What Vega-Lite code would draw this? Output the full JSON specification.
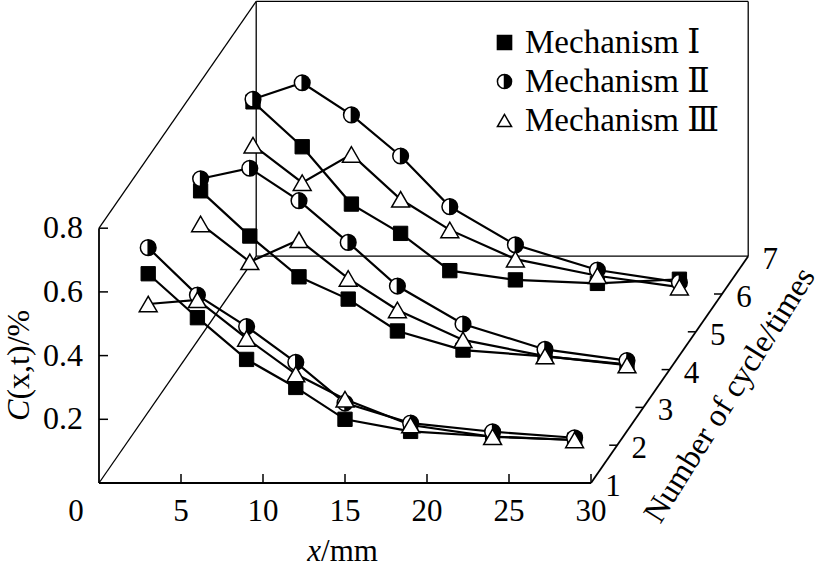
{
  "$schema": "https://vega.github.io/schema/vega-lite/v6.json",
  "width": 823,
  "height": 567,
  "autosize": {"type": "none"},
  "padding": 0,
  "background": "white",
  "config": {
    "view": {"stroke": null},
    "legend": {
      "orient": "none",
      "legendX": 488,
      "legendY": 26,
      "labelFont": "Liberation Serif, DejaVu Serif",
      "labelFontSize": 33,
      "labelColor": "black",
      "labelLimit": 400,
      "symbolSize": 200,
      "labelOffset": 4,
      "rowPadding": 5
    }
  },
  "datasets": {
    "points": [
      {"mech": "Mechanism Ⅰ", "cycle": 1, "x": 3, "C": 0.657},
      {"mech": "Mechanism Ⅰ", "cycle": 1, "x": 6, "C": 0.519},
      {"mech": "Mechanism Ⅰ", "cycle": 1, "x": 9, "C": 0.388},
      {"mech": "Mechanism Ⅰ", "cycle": 1, "x": 12, "C": 0.300},
      {"mech": "Mechanism Ⅰ", "cycle": 1, "x": 15, "C": 0.200},
      {"mech": "Mechanism Ⅰ", "cycle": 1, "x": 19, "C": 0.162},
      {"mech": "Mechanism Ⅰ", "cycle": 1, "x": 24, "C": 0.146},
      {"mech": "Mechanism Ⅰ", "cycle": 1, "x": 29, "C": 0.135},
      {"mech": "Mechanism Ⅰ", "cycle": 3, "x": 3, "C": 0.680},
      {"mech": "Mechanism Ⅰ", "cycle": 3, "x": 6, "C": 0.538},
      {"mech": "Mechanism Ⅰ", "cycle": 3, "x": 9, "C": 0.410},
      {"mech": "Mechanism Ⅰ", "cycle": 3, "x": 12, "C": 0.340},
      {"mech": "Mechanism Ⅰ", "cycle": 3, "x": 15, "C": 0.240},
      {"mech": "Mechanism Ⅰ", "cycle": 3, "x": 19, "C": 0.180},
      {"mech": "Mechanism Ⅰ", "cycle": 3, "x": 24, "C": 0.160},
      {"mech": "Mechanism Ⅰ", "cycle": 3, "x": 29, "C": 0.135},
      {"mech": "Mechanism Ⅰ", "cycle": 5, "x": 3, "C": 0.722},
      {"mech": "Mechanism Ⅰ", "cycle": 5, "x": 6, "C": 0.581},
      {"mech": "Mechanism Ⅰ", "cycle": 5, "x": 9, "C": 0.401},
      {"mech": "Mechanism Ⅰ", "cycle": 5, "x": 12, "C": 0.309},
      {"mech": "Mechanism Ⅰ", "cycle": 5, "x": 15, "C": 0.192},
      {"mech": "Mechanism Ⅰ", "cycle": 5, "x": 19, "C": 0.163},
      {"mech": "Mechanism Ⅰ", "cycle": 5, "x": 24, "C": 0.152},
      {"mech": "Mechanism Ⅰ", "cycle": 5, "x": 29, "C": 0.165},
      {"mech": "Mechanism Ⅱ", "cycle": 1, "x": 3, "C": 0.739},
      {"mech": "Mechanism Ⅱ", "cycle": 1, "x": 6, "C": 0.590},
      {"mech": "Mechanism Ⅱ", "cycle": 1, "x": 9, "C": 0.491},
      {"mech": "Mechanism Ⅱ", "cycle": 1, "x": 12, "C": 0.379},
      {"mech": "Mechanism Ⅱ", "cycle": 1, "x": 15, "C": 0.251},
      {"mech": "Mechanism Ⅱ", "cycle": 1, "x": 19, "C": 0.188},
      {"mech": "Mechanism Ⅱ", "cycle": 1, "x": 24, "C": 0.161},
      {"mech": "Mechanism Ⅱ", "cycle": 1, "x": 29, "C": 0.142},
      {"mech": "Mechanism Ⅱ", "cycle": 3, "x": 3, "C": 0.718},
      {"mech": "Mechanism Ⅱ", "cycle": 3, "x": 6, "C": 0.751},
      {"mech": "Mechanism Ⅱ", "cycle": 3, "x": 9, "C": 0.649},
      {"mech": "Mechanism Ⅱ", "cycle": 3, "x": 12, "C": 0.518},
      {"mech": "Mechanism Ⅱ", "cycle": 3, "x": 15, "C": 0.381},
      {"mech": "Mechanism Ⅱ", "cycle": 3, "x": 19, "C": 0.262},
      {"mech": "Mechanism Ⅱ", "cycle": 3, "x": 24, "C": 0.182},
      {"mech": "Mechanism Ⅱ", "cycle": 3, "x": 29, "C": 0.147},
      {"mech": "Mechanism Ⅱ", "cycle": 5, "x": 3, "C": 0.730},
      {"mech": "Mechanism Ⅱ", "cycle": 5, "x": 6, "C": 0.782},
      {"mech": "Mechanism Ⅱ", "cycle": 5, "x": 9, "C": 0.681},
      {"mech": "Mechanism Ⅱ", "cycle": 5, "x": 12, "C": 0.552},
      {"mech": "Mechanism Ⅱ", "cycle": 5, "x": 15, "C": 0.393},
      {"mech": "Mechanism Ⅱ", "cycle": 5, "x": 19, "C": 0.273},
      {"mech": "Mechanism Ⅱ", "cycle": 5, "x": 24, "C": 0.194},
      {"mech": "Mechanism Ⅱ", "cycle": 5, "x": 29, "C": 0.155},
      {"mech": "Mechanism Ⅲ", "cycle": 1, "x": 3, "C": 0.562},
      {"mech": "Mechanism Ⅲ", "cycle": 1, "x": 6, "C": 0.575},
      {"mech": "Mechanism Ⅲ", "cycle": 1, "x": 9, "C": 0.454},
      {"mech": "Mechanism Ⅲ", "cycle": 1, "x": 12, "C": 0.342},
      {"mech": "Mechanism Ⅲ", "cycle": 1, "x": 15, "C": 0.263},
      {"mech": "Mechanism Ⅲ", "cycle": 1, "x": 19, "C": 0.182},
      {"mech": "Mechanism Ⅲ", "cycle": 1, "x": 24, "C": 0.145},
      {"mech": "Mechanism Ⅲ", "cycle": 1, "x": 29, "C": 0.135},
      {"mech": "Mechanism Ⅲ", "cycle": 3, "x": 3, "C": 0.576},
      {"mech": "Mechanism Ⅲ", "cycle": 3, "x": 6, "C": 0.457},
      {"mech": "Mechanism Ⅲ", "cycle": 3, "x": 9, "C": 0.526},
      {"mech": "Mechanism Ⅲ", "cycle": 3, "x": 12, "C": 0.405},
      {"mech": "Mechanism Ⅲ", "cycle": 3, "x": 15, "C": 0.306},
      {"mech": "Mechanism Ⅲ", "cycle": 3, "x": 19, "C": 0.212},
      {"mech": "Mechanism Ⅲ", "cycle": 3, "x": 24, "C": 0.161},
      {"mech": "Mechanism Ⅲ", "cycle": 3, "x": 29, "C": 0.133},
      {"mech": "Mechanism Ⅲ", "cycle": 5, "x": 3, "C": 0.586},
      {"mech": "Mechanism Ⅲ", "cycle": 5, "x": 6, "C": 0.468},
      {"mech": "Mechanism Ⅲ", "cycle": 5, "x": 9, "C": 0.557},
      {"mech": "Mechanism Ⅲ", "cycle": 5, "x": 12, "C": 0.416},
      {"mech": "Mechanism Ⅲ", "cycle": 5, "x": 15, "C": 0.320},
      {"mech": "Mechanism Ⅲ", "cycle": 5, "x": 19, "C": 0.228},
      {"mech": "Mechanism Ⅲ", "cycle": 5, "x": 24, "C": 0.176},
      {"mech": "Mechanism Ⅲ", "cycle": 5, "x": 29, "C": 0.140}
    ],
    "frame": [
      {"kind": "axis", "x": 0, "C": 0, "cycle": 1, "x2": 0, "C2": 0.8, "cycle2": 1},
      {"kind": "axis", "x": 0, "C": 0, "cycle": 1, "x2": 30, "C2": 0, "cycle2": 1},
      {"kind": "axis", "x": 30, "C": 0, "cycle": 1, "x2": 30, "C2": 0, "cycle2": 7},
      {"kind": "box", "x": 0, "C": 0, "cycle": 1, "x2": 0, "C2": 0, "cycle2": 7},
      {"kind": "box", "x": 0, "C": 0.8, "cycle": 1, "x2": 0, "C2": 0.8, "cycle2": 7},
      {"kind": "box", "x": 0, "C": 0, "cycle": 7, "x2": 0, "C2": 0.8, "cycle2": 7},
      {"kind": "box", "x": 0, "C": 0, "cycle": 7, "x2": 30, "C2": 0, "cycle2": 7},
      {"kind": "box", "x": 30, "C": 0, "cycle": 7, "x2": 30, "C2": 0.8, "cycle2": 7},
      {"kind": "box", "x": 0, "C": 0.8, "cycle": 7, "x2": 30, "C2": 0.8, "cycle2": 7}
    ],
    "xticks": [
      {"x": 5, "C": 0, "cycle": 1}, {"x": 10, "C": 0, "cycle": 1}, {"x": 15, "C": 0, "cycle": 1},
      {"x": 20, "C": 0, "cycle": 1}, {"x": 25, "C": 0, "cycle": 1}, {"x": 30, "C": 0, "cycle": 1}
    ],
    "yticks": [
      {"x": 0, "C": 0.2, "cycle": 1}, {"x": 0, "C": 0.4, "cycle": 1},
      {"x": 0, "C": 0.6, "cycle": 1}, {"x": 0, "C": 0.8, "cycle": 1}
    ],
    "dticks": [
      {"x": 30, "C": 0, "cycle": 1}, {"x": 30, "C": 0, "cycle": 2}, {"x": 30, "C": 0, "cycle": 3},
      {"x": 30, "C": 0, "cycle": 4}, {"x": 30, "C": 0, "cycle": 5}, {"x": 30, "C": 0, "cycle": 6},
      {"x": 30, "C": 0, "cycle": 7}
    ]
  },
  "layer": [
    {
      "data": {"name": "frame"},
      "transform": [
        {"filter": "datum.kind == 'box'"},
        {"calculate": "datum.x + (datum.cycle-1)*1.5976", "as": "X"},
        {"calculate": "datum.C + (datum.cycle-1)*0.11868", "as": "Y"},
        {"calculate": "datum.x2 + (datum.cycle2-1)*1.5976", "as": "X2"},
        {"calculate": "datum.C2 + (datum.cycle2-1)*0.11868", "as": "Y2"}
      ],
      "mark": {"type": "rule", "color": "black", "strokeWidth": 1.3},
      "encoding": {
        "x": {"field": "X", "type": "quantitative", "scale": {"domain": [-6.0366, 44.146], "nice": false, "zero": false}, "axis": null},
        "y": {"field": "Y", "type": "quantitative", "scale": {"domain": [-0.26374, 1.51648], "nice": false, "zero": false}, "axis": null},
        "x2": {"field": "X2"},
        "y2": {"field": "Y2"}
      }
    },
    {
      "data": {"name": "frame"},
      "transform": [
        {"filter": "datum.kind == 'axis'"},
        {"calculate": "datum.x + (datum.cycle-1)*1.5976", "as": "X"},
        {"calculate": "datum.C + (datum.cycle-1)*0.11868", "as": "Y"},
        {"calculate": "datum.x2 + (datum.cycle2-1)*1.5976", "as": "X2"},
        {"calculate": "datum.C2 + (datum.cycle2-1)*0.11868", "as": "Y2"}
      ],
      "mark": {"type": "rule", "color": "black", "strokeWidth": 1.8},
      "encoding": {
        "x": {"field": "X", "type": "quantitative", "axis": null},
        "y": {"field": "Y", "type": "quantitative", "axis": null},
        "x2": {"field": "X2"},
        "y2": {"field": "Y2"}
      }
    },
    {
      "data": {"name": "xticks"},
      "transform": [
        {"calculate": "datum.x + (datum.cycle-1)*1.5976", "as": "X"},
        {"calculate": "datum.C + (datum.cycle-1)*0.11868", "as": "Y"}
      ],
      "mark": {"type": "tick", "orient": "vertical", "size": 9, "thickness": 1.5, "yOffset": -4.5, "color": "black", "opacity": 1},
      "encoding": {
        "x": {"field": "X", "type": "quantitative", "axis": null},
        "y": {"field": "Y", "type": "quantitative", "axis": null}
      }
    },
    {
      "data": {"name": "xticks"},
      "transform": [
        {"calculate": "datum.x + (datum.cycle-1)*1.5976", "as": "X"},
        {"calculate": "datum.C + (datum.cycle-1)*0.11868", "as": "Y"}
      ],
      "mark": {"type": "text", "font": "Liberation Serif", "fontSize": 31, "color": "black", "baseline": "middle", "align": "center", "dy": 29},
      "encoding": {
        "x": {"field": "X", "type": "quantitative", "axis": null},
        "y": {"field": "Y", "type": "quantitative", "axis": null},
        "text": {"field": "x", "type": "quantitative"}
      }
    },
    {
      "data": {"values": [{"label": "0"}]},
      "mark": {"type": "text", "font": "Liberation Serif", "fontSize": 31, "color": "black", "baseline": "middle", "align": "center", "dy": 29, "dx": -23},
      "encoding": {
        "x": {"datum": 0, "type": "quantitative", "axis": null},
        "y": {"datum": 0, "type": "quantitative", "axis": null},
        "text": {"field": "label"}
      }
    },
    {
      "data": {"name": "yticks"},
      "transform": [
        {"calculate": "datum.x + (datum.cycle-1)*1.5976", "as": "X"},
        {"calculate": "datum.C + (datum.cycle-1)*0.11868", "as": "Y"}
      ],
      "mark": {"type": "tick", "orient": "horizontal", "size": 9, "thickness": 1.5, "xOffset": 4.5, "color": "black", "opacity": 1},
      "encoding": {
        "x": {"field": "X", "type": "quantitative", "axis": null},
        "y": {"field": "Y", "type": "quantitative", "axis": null}
      }
    },
    {
      "data": {"name": "yticks"},
      "transform": [
        {"calculate": "datum.x + (datum.cycle-1)*1.5976", "as": "X"},
        {"calculate": "datum.C + (datum.cycle-1)*0.11868", "as": "Y"}
      ],
      "mark": {"type": "text", "font": "Liberation Serif", "fontSize": 32, "color": "black", "baseline": "middle", "align": "right", "dx": -16},
      "encoding": {
        "x": {"field": "X", "type": "quantitative", "axis": null},
        "y": {"field": "Y", "type": "quantitative", "axis": null},
        "text": {"field": "C", "type": "quantitative", "format": ".1f"}
      }
    },
    {
      "data": {"name": "dticks"},
      "transform": [
        {"filter": "datum.cycle > 1 && datum.cycle < 7"},
        {"calculate": "datum.x + (datum.cycle-1)*1.5976", "as": "X"},
        {"calculate": "datum.C + (datum.cycle-1)*0.11868", "as": "Y"}
      ],
      "mark": {"type": "tick", "orient": "horizontal", "size": 8, "thickness": 1.5, "xOffset": -4, "color": "black", "opacity": 1},
      "encoding": {
        "x": {"field": "X", "type": "quantitative", "axis": null},
        "y": {"field": "Y", "type": "quantitative", "axis": null}
      }
    },
    {
      "data": {"name": "dticks"},
      "transform": [
        {"calculate": "datum.x + (datum.cycle-1)*1.5976", "as": "X"},
        {"calculate": "datum.C + (datum.cycle-1)*0.11868", "as": "Y"}
      ],
      "mark": {"type": "text", "font": "Liberation Serif", "fontSize": 31, "color": "black", "baseline": "middle", "align": "center", "dx": 22, "dy": 4},
      "encoding": {
        "x": {"field": "X", "type": "quantitative", "axis": null},
        "y": {"field": "Y", "type": "quantitative", "axis": null},
        "text": {"field": "cycle", "type": "quantitative"}
      }
    },
    {
      "data": {"name": "points"},
      "transform": [
        {"calculate": "datum.x + (datum.cycle-1)*1.5976", "as": "X"},
        {"calculate": "datum.C + (datum.cycle-1)*0.11868", "as": "Y"}
      ],
      "mark": {"type": "line", "color": "black", "strokeWidth": 2.2},
      "encoding": {
        "x": {"field": "X", "type": "quantitative", "axis": null},
        "y": {"field": "Y", "type": "quantitative", "axis": null},
        "detail": [{"field": "mech"}, {"field": "cycle"}],
        "order": {"field": "x", "type": "quantitative"}
      }
    },
    {
      "data": {"name": "points"},
      "transform": [
        {"filter": "datum.mech == 'Mechanism Ⅰ'"},
        {"calculate": "datum.x + (datum.cycle-1)*1.5976", "as": "X"},
        {"calculate": "datum.C + (datum.cycle-1)*0.11868", "as": "Y"}
      ],
      "mark": {"type": "point", "filled": true, "size": 205, "stroke": "black", "strokeWidth": 1, "opacity": 1},
      "encoding": {
        "x": {"field": "X", "type": "quantitative", "axis": null},
        "y": {"field": "Y", "type": "quantitative", "axis": null},
        "shape": {"field": "mech", "type": "nominal", "title": null,
          "scale": {"domain": ["Mechanism Ⅰ", "Mechanism Ⅱ", "Mechanism Ⅲ"], "range": ["square", "M0,-1A1,1,0,0,1,0,1Z M0,-1A1,1,0,0,0,0,1A1,1,0,0,1,0,-1Z", "triangle-up"]},
          "legend": {"encode": {"symbols": {"update": {"stroke": {"value": "black"}, "strokeWidth": {"value": 1.5}}}}}},
        "fill": {"field": "mech", "type": "nominal", "title": null,
          "scale": {"domain": ["Mechanism Ⅰ", "Mechanism Ⅱ", "Mechanism Ⅲ"], "range": ["black", "black", "white"]},
          "legend": {"encode": {"symbols": {"update": {"stroke": {"value": "black"}, "strokeWidth": {"value": 1.5}}}}}}
      }
    },
    {
      "data": {"name": "points"},
      "transform": [
        {"filter": "datum.mech == 'Mechanism Ⅱ'"},
        {"calculate": "datum.x + (datum.cycle-1)*1.5976", "as": "X"},
        {"calculate": "datum.C + (datum.cycle-1)*0.11868", "as": "Y"}
      ],
      "mark": {"type": "point", "filled": true, "shape": "circle", "size": 245, "fill": "white", "strokeWidth": 0, "opacity": 1},
      "encoding": {
        "x": {"field": "X", "type": "quantitative", "axis": null},
        "y": {"field": "Y", "type": "quantitative", "axis": null}
      }
    },
    {
      "data": {"name": "points"},
      "transform": [
        {"filter": "datum.mech == 'Mechanism Ⅱ'"},
        {"calculate": "datum.x + (datum.cycle-1)*1.5976", "as": "X"},
        {"calculate": "datum.C + (datum.cycle-1)*0.11868", "as": "Y"}
      ],
      "mark": {"type": "point", "filled": true, "size": 245, "stroke": "black", "strokeWidth": 1.5, "opacity": 1},
      "encoding": {
        "x": {"field": "X", "type": "quantitative", "axis": null},
        "y": {"field": "Y", "type": "quantitative", "axis": null},
        "shape": {"field": "mech", "type": "nominal", "title": null},
        "fill": {"field": "mech", "type": "nominal", "title": null}
      }
    },
    {
      "data": {"name": "points"},
      "transform": [
        {"filter": "datum.mech == 'Mechanism Ⅲ'"},
        {"calculate": "datum.x + (datum.cycle-1)*1.5976", "as": "X"},
        {"calculate": "datum.C + (datum.cycle-1)*0.11868", "as": "Y"}
      ],
      "mark": {"type": "point", "filled": true, "size": 320, "stroke": "black", "strokeWidth": 1.5, "opacity": 1},
      "encoding": {
        "x": {"field": "X", "type": "quantitative", "axis": null},
        "y": {"field": "Y", "type": "quantitative", "axis": null},
        "shape": {"field": "mech", "type": "nominal", "title": null},
        "fill": {"field": "mech", "type": "nominal", "title": null}
      }
    },
    {
      "data": {"values": [{"label": "x"}]},
      "mark": {"type": "text", "font": "Liberation Serif", "fontStyle": "italic", "fontSize": 31, "color": "black", "baseline": "middle", "align": "right"},
      "encoding": {
        "x": {"datum": 13.54, "type": "quantitative", "axis": null},
        "y": {"datum": -0.2166, "type": "quantitative", "axis": null},
        "text": {"field": "label"}
      }
    },
    {
      "data": {"values": [{"label": "/mm"}]},
      "mark": {"type": "text", "font": "Liberation Serif", "fontSize": 31, "color": "black", "baseline": "middle", "align": "left"},
      "encoding": {
        "x": {"datum": 13.54, "type": "quantitative", "axis": null},
        "y": {"datum": -0.2166, "type": "quantitative", "axis": null},
        "text": {"field": "label"}
      }
    },
    {
      "data": {"values": [{"label": "C"}]},
      "mark": {"type": "text", "font": "Liberation Serif", "fontStyle": "italic", "fontSize": 32, "color": "black", "baseline": "middle", "align": "right", "angle": 270},
      "encoding": {
        "x": {"datum": -4.9, "type": "quantitative", "axis": null},
        "y": {"datum": 0.262, "type": "quantitative", "axis": null},
        "text": {"field": "label"}
      }
    },
    {
      "data": {"values": [{"label": "(x,t)/%"}]},
      "mark": {"type": "text", "font": "Liberation Serif", "fontSize": 32, "color": "black", "baseline": "middle", "align": "left", "angle": 270},
      "encoding": {
        "x": {"datum": -4.9, "type": "quantitative", "axis": null},
        "y": {"datum": 0.262, "type": "quantitative", "axis": null},
        "text": {"field": "label"}
      }
    },
    {
      "data": {"values": [{"label": "Number of cycle/times"}]},
      "mark": {"type": "text", "font": "Liberation Serif", "fontSize": 32, "color": "black", "baseline": "middle", "align": "center", "angle": 302},
      "encoding": {
        "x": {"datum": 38.45, "type": "quantitative", "axis": null},
        "y": {"datum": 0.2763, "type": "quantitative", "axis": null},
        "text": {"field": "label"}
      }
    }
  ]
}
